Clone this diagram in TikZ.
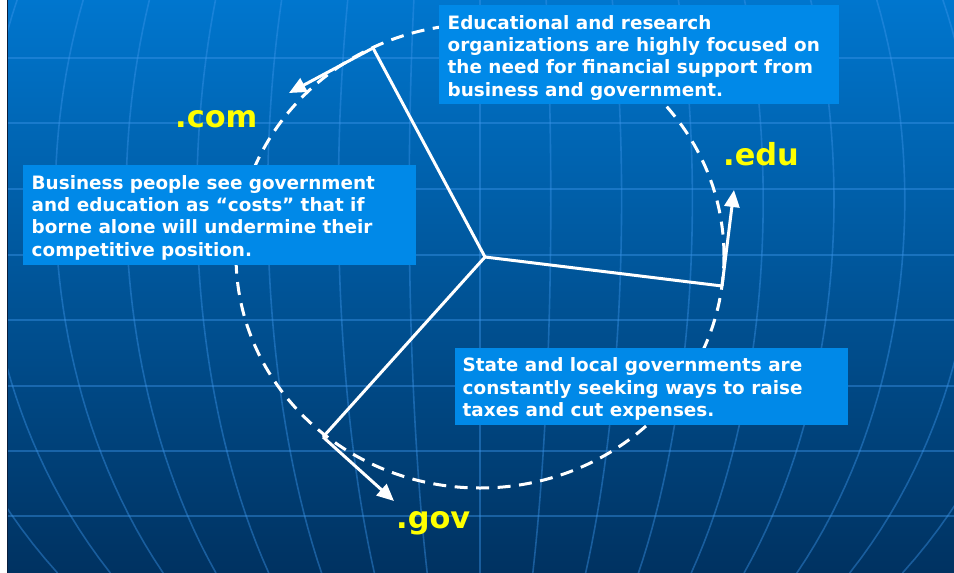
\documentclass[tikz,border=0pt]{standalone}
\usepackage{fontspec}
\setmainfont{DejaVu Sans}
\usetikzlibrary{arrows.meta}
\definecolor{bgtop}{RGB}{0,118,206}
\definecolor{bgmid}{RGB}{0,92,163}
\definecolor{bgbot}{RGB}{0,50,97}
\definecolor{boxblue}{RGB}{0,137,232}
\definecolor{gridblue}{RGB}{60,150,235}
\definecolor{edgedark}{RGB}{10,30,60}
\definecolor{labelyellow}{RGB}{255,255,0}
\tikzset{
  gridline/.style={draw=gridblue, opacity=0.42, line width=1.6pt},
  infobox/.style={fill=boxblue, draw=none, inner sep=0pt, anchor=north west},
  infotext/.style={text=white, font=\fontsize{18.4}{22.3}\selectfont\bfseries, align=left, anchor=base west, inner sep=0pt},
  domainlabel/.style={text=labelyellow, font=\fontsize{30.4}{36}\selectfont\bfseries, anchor=base west, inner sep=0pt},
  spoke/.style={draw=white, line width=3pt},
  tangent/.style={draw=white, line width=3pt, -{Triangle[length=17pt,width=15pt]}},
  ring/.style={draw=white, line width=3pt, dash pattern=on 13pt off 8.5pt},
}
\begin{document}
\begin{tikzpicture}[x=1pt,y=-1pt]
\useasboundingbox (0,0) rectangle (954,573);
% background
\fill[white] (0,0) rectangle (8,573);
\shade[top color=bgtop, middle color=bgmid, bottom color=bgbot] (8,0) rectangle (954,573);
\begin{scope}
  \clip (8,0) rectangle (954,573);
  \foreach \yy in {58,123,189,255,320,386,451,516} {
    \draw[gridline] (8,\yy) -- (954,\yy);
  }
  \foreach \k in {-8,...,8} {
    \draw[gridline] plot[domain=0:573, samples=40, variable=\t]
      ({480+\k*70.8*sqrt(1-((\t-200)/560)*((\t-200)/560))}, {\t});
  }
\end{scope}
\draw[edgedark, line width=1.5pt] (7.5,0) -- (7.5,573);
% ring
\draw[ring] (480,256) ellipse [x radius=244pt, y radius=232pt];
% hub and spokes
\coordinate (hub) at (485,257);
\coordinate (comend) at (373,48);
\coordinate (eduend) at (722,286);
\coordinate (govend) at (323,437);
\coordinate (comtip) at (289,93);
\coordinate (edutip) at (734,190);
\coordinate (govtip) at (394,501);
\draw[spoke] (hub) -- (comend);
\draw[spoke] (hub) -- (eduend);
\draw[spoke] (hub) -- (govend);
\draw[tangent] (comend) -- (comtip);
\draw[tangent] (eduend) -- (edutip);
\draw[tangent] (govend) -- (govtip);
% boxes
\node[infobox, minimum width=400pt, minimum height=99pt] (boxedu) at (439,5) {};
\node[infobox, minimum width=393pt, minimum height=100pt] (boxcom) at (23,165) {};
\node[infobox, minimum width=393pt, minimum height=77pt] (boxgov) at (455,348) {};
% (base anchor = baseline of the last line)
\node[infotext] (txtedu) at (447.5,96) {Educational and research\\organizations are highly focused on\\the need for financial support from\\business and government.};
\node[infotext] (txtcom) at (31.5,256) {Business people see government\\and education as “costs” that if\\borne alone will undermine their\\competitive position.};
\node[infotext] (txtgov) at (462.5,416.5) {State and local governments are\\constantly seeking ways to raise\\taxes and cut expenses.};
% labels
\node[domainlabel] (lblcom) at (175,127) {.com};
\node[domainlabel] (lbledu) at (723,165) {.edu};
\node[domainlabel] (lblgov) at (396,528) {.gov};
\end{tikzpicture}
\end{document}
